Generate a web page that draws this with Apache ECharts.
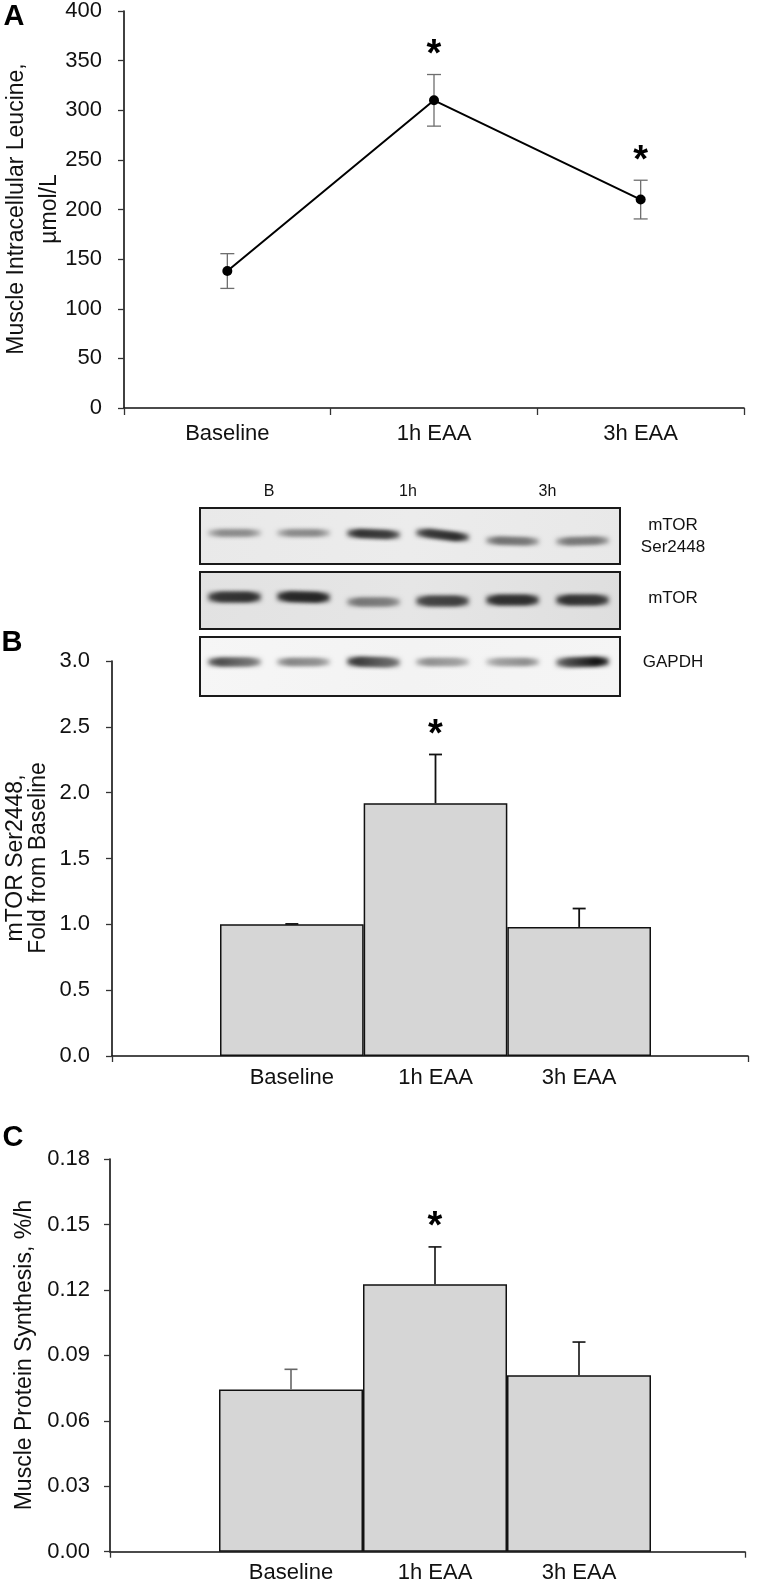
<!DOCTYPE html>
<html><head><meta charset="utf-8">
<script src="https://cdn.jsdelivr.net/npm/echarts@6/dist/echarts.min.js"></script>
<style>html,body{margin:0;padding:0;background:#fff}#c{width:757px;height:1586px}</style>
</head><body><div id="c"></div>
<script>
// ---------- data ----------
const categories = ['Baseline', '1h EAA', '3h EAA'];

const leucineMean = [138, 310, 210];
const leucineSE   = [17.5, 26, 19.5];
const leucineSig  = [false, true, true];

const mtorMean = [1.0, 1.92, 0.98];
const mtorSE   = [0.003, 0.37, 0.14];
const mtorSig  = [false, true, false];

const mpsMean = [0.0743, 0.1226, 0.0809];
const mpsSE   = [0.0093, 0.0171, 0.0152];
const mpsSig  = [false, true, false];

const blotLaneLabels = ['B', '1h', '3h'];
const blotRowLabels  = ['mTOR\nSer2448', 'mTOR', 'GAPDH'];
// band darkness (0..1) at left and right end of each of 6 lanes
const bandPhospho = [[0.5,0.5],[0.5,0.52],[0.88,0.82],[0.82,0.9],[0.6,0.55],[0.55,0.55]];
const bandTotal   = [[0.82,0.85],[0.88,0.9],[0.55,0.5],[0.75,0.78],[0.85,0.85],[0.85,0.82]];
const bandGapdh   = [[0.78,0.55],[0.5,0.42],[0.85,0.6],[0.45,0.35],[0.32,0.45],[0.65,1.0]];

// ---------- helpers ----------
const FONT = 'Liberation Sans, Arial, Helvetica, sans-serif';
const INK = '#111';

function errRender(colors, twoSided, capHalf, lw) {
  return function (params, api) {
    const i = api.value(0), lo = api.value(1), hi = api.value(2);
    const pHi = api.coord([i, hi]), pLo = api.coord([i, lo]);
    const x = pHi[0];
    const c = colors[params.dataIndex];
    const st = {stroke: c, lineWidth: lw};
    const ch = [
      {type: 'line', shape: {x1: x, y1: pLo[1], x2: x, y2: pHi[1]}, style: st},
      {type: 'line', shape: {x1: x - capHalf, y1: pHi[1], x2: x + capHalf, y2: pHi[1]}, style: st}
    ];
    if (twoSided) ch.push({type: 'line', shape: {x1: x - capHalf, y1: pLo[1], x2: x + capHalf, y2: pLo[1]}, style: st});
    return {type: 'group', children: ch};
  };
}
function starRender(params, api) {
  const p = api.coord([api.value(0), api.value(1)]);
  return {type: 'text', x: p[0], y: p[1] - 19,
    style: {text: '*', fill: '#000', font: 'bold 38px ' + FONT, align: 'center', verticalAlign: 'middle'}};
}
function errData(mean, se, twoSided) {
  return mean.map((m, i) => [i, twoSided ? m - se[i] : m, m + se[i]]);
}
function starData(mean, se, sig) {
  return mean.map((m, i) => sig[i] ? [i, m + se[i]] : null).filter(Boolean);
}

const axisLineStyle = {color: INK, width: 1.6};
const tickStyle = {color: '#333', width: 1.3};
const lbl = (margin, fmt) => ({fontSize: 22, color: INK, fontFamily: FONT, margin: margin, formatter: fmt});

function frameX(gi) {
  return {type: 'value', gridIndex: gi, min: 0, max: 1, interval: 1,
    axisLine: {show: true, onZero: false, lineStyle: axisLineStyle},
    axisTick: {show: true, length: 6, lineStyle: tickStyle},
    axisLabel: {show: false}, splitLine: {show: false}};
}
function barsX(gi, margin) {
  return {type: 'category', gridIndex: gi, data: categories, boundaryGap: true,
    axisLine: {show: false}, axisTick: {show: false}, axisLabel: lbl(margin), splitLine: {show: false}};
}
function valY(gi, min, max, interval, fmt, show, margin) {
  return {type: 'value', gridIndex: gi, min: min, max: max, interval: interval, show: show,
    axisLine: {show: true, lineStyle: axisLineStyle},
    axisTick: {show: true, length: 6, lineStyle: tickStyle},
    axisLabel: lbl(margin, fmt), splitLine: {show: false}};
}

// ---------- western blot (drawn as graphics) ----------
const blotX0 = 200, blotX1 = 620;
const blotBoxes = [[508, 564, ['#e9e9e9', '#ececec', '#e8e8e8']], [572, 629, ['#e2e2e2', '#e6e6e6', '#dedede']], [637, 696, ['#f6f6f6', '#f3f3f3', '#f5f5f5']]];
const laneCenters = [234.5, 303.5, 373.5, 442.5, 512.5, 582.5];
const bandCY = [[533,533,534,535,541,541],[597,597,602,601,600,600],[662,662,662,662,662,662]];
const bandSlope = [[0,0,1.5,4.5,1,-1],[0,1,0,0,0,0],[0,0,1,0,0,-1]];
const bandH = [[3,3,5,5,4,4],[7,7,5,7,7,7],[5,4,6,4,4,6]];
const bandSets = [bandPhospho, bandTotal, bandGapdh];
function gray(v) { const g = Math.round(228 - v * 215); return 'rgb(' + g + ',' + g + ',' + g + ')'; }

const graphics = [];
const OFF = 3000;
blotBoxes.forEach((b, r) => {
  graphics.push({type: 'rect', z: 100, shape: {x: blotX0, y: b[0], width: blotX1 - blotX0, height: b[1] - b[0]},
    style: {fill: {type: 'linear', x: 0, y: 0, x2: 1, y2: 1,
      colorStops: [{offset: 0, color: b[2][0]}, {offset: 0.5, color: b[2][1]}, {offset: 1, color: b[2][2]}]},
      stroke: '#1a1a1a', lineWidth: 2}});
  bandSets[r].forEach((d, k) => {
    const w = 52, h = bandH[r][k], nSeg = 8, segW = 16;
    const step = (w - segW) / (nSeg - 1);
    for (let s = 0; s < nSeg; s++) {
      const t = s / (nSeg - 1);
      const cx = laneCenters[k] - w / 2 + segW / 2 + s * step;
      const cy = bandCY[r][k] + (t - 0.5) * bandSlope[r][k];
      const col = gray(d[0] + (d[1] - d[0]) * t);
      graphics.push({type: 'rect', z: 101,
        shape: {x: cx - segW / 2 - OFF, y: cy - h / 2, width: segW, height: h},
        style: {fill: col, shadowBlur: 5, shadowColor: col, shadowOffsetX: OFF, shadowOffsetY: 0}});
    }
  });
});
blotLaneLabels.forEach((t, j) => {
  graphics.push({type: 'text', z: 102, x: (laneCenters[2 * j] + laneCenters[2 * j + 1]) / 2, y: 492,
    style: {text: t, font: '16px ' + FONT, fill: INK, align: 'center', verticalAlign: 'middle'}});
});
const rowLabelY = [536, 598, 662];
blotRowLabels.forEach((t, j) => {
  graphics.push({type: 'text', z: 102, x: 673, y: rowLabelY[j],
    style: {text: t, font: '17px ' + FONT, fill: INK, align: 'center', verticalAlign: 'middle', lineHeight: 22}});
});

// panel letters
[['A', 14, 17], ['B', 12, 643], ['C', 13, 1138]].forEach(p => {
  graphics.push({type: 'text', x: p[1], y: p[2],
    style: {text: p[0], font: 'bold 29px ' + FONT, fill: '#000', align: 'center', verticalAlign: 'middle'}});
});
// axis titles (rotated)
[['Muscle Intracellular Leucine,', 17, 209], ['µmol/L', 50, 209],
 ['mTOR Ser2448,', 16, 858], ['Fold from Baseline', 39, 858],
 ['Muscle Protein Synthesis, %/h', 25, 1355]].forEach(t => {
  graphics.push({type: 'text', x: t[1], y: t[2], rotation: Math.PI / 2,
    style: {text: t[0], font: '23px ' + FONT, fill: INK, align: 'center', verticalAlign: 'middle'}});
});

// ---------- chart ----------
const chart = echarts.init(document.getElementById('c'), null, {renderer: 'canvas'});
chart.setOption({
  backgroundColor: '#fff',
  animation: false,
  grid: [
    {left: 124, top: 10, width: 620, height: 398},
    {left: 112, top: 661, width: 636, height: 395},
    {left: 220, top: 661, width: 431, height: 395},
    {left: 110, top: 1159, width: 635, height: 392.7},
    {left: 219, top: 1159, width: 432, height: 392.7}
  ],
  xAxis: [
    {type: 'category', gridIndex: 0, data: categories, boundaryGap: true,
      axisLine: {show: true, lineStyle: axisLineStyle},
      axisTick: {show: true, length: 7, lineStyle: tickStyle},
      axisLabel: lbl(15), splitLine: {show: false}},
    frameX(1),
    barsX(2, 11),
    frameX(3),
    barsX(4, 10)
  ],
  yAxis: [
    valY(0, 0, 400, 50, null, true, 22),
    valY(1, 0, 3, 0.5, v => v.toFixed(1), true, 22),
    valY(2, 0, 3, 0.5, null, false, 22),
    valY(3, 0, 0.18, 0.03, v => v.toFixed(2), true, 20),
    valY(4, 0, 0.18, 0.03, null, false, 20)
  ],
  series: [
    {type: 'custom', xAxisIndex: 0, yAxisIndex: 0, z: 2, renderItem: errRender(['#6e6e6e','#6e6e6e','#6e6e6e'], true, 7, 1.3),
      data: errData(leucineMean, leucineSE, true), encode: {x: 0, y: [1, 2]}},
    {type: 'line', xAxisIndex: 0, yAxisIndex: 0, z: 3, data: leucineMean,
      lineStyle: {color: '#000', width: 2}, symbol: 'circle', symbolSize: 10,
      itemStyle: {color: '#000'}},
    {type: 'custom', xAxisIndex: 0, yAxisIndex: 0, renderItem: starRender,
      data: starData(leucineMean, leucineSE, leucineSig), encode: {x: 0, y: 1}},

    {type: 'bar', xAxisIndex: 2, yAxisIndex: 2, data: mtorMean, barCategoryGap: '0%',
      itemStyle: {color: '#d6d6d6', borderColor: INK, borderWidth: 1.5}},
    {type: 'custom', xAxisIndex: 2, yAxisIndex: 2, z: 3, renderItem: errRender([INK, INK, INK], false, 6.5, 1.8),
      data: errData(mtorMean, mtorSE, false), encode: {x: 0, y: [1, 2]}},
    {type: 'custom', xAxisIndex: 2, yAxisIndex: 2, renderItem: starRender,
      data: starData(mtorMean, mtorSE, mtorSig), encode: {x: 0, y: 1}},

    {type: 'bar', xAxisIndex: 4, yAxisIndex: 4, data: mpsMean, barCategoryGap: '0%',
      itemStyle: {color: '#d6d6d6', borderColor: INK, borderWidth: 1.5}},
    {type: 'custom', xAxisIndex: 4, yAxisIndex: 4, z: 3, renderItem: errRender(['#666', INK, INK], false, 6.5, 1.6),
      data: errData(mpsMean, mpsSE, false), encode: {x: 0, y: [1, 2]}},
    {type: 'custom', xAxisIndex: 4, yAxisIndex: 4, renderItem: starRender,
      data: starData(mpsMean, mpsSE, mpsSig), encode: {x: 0, y: 1}}
  ],
  graphic: {elements: graphics}
});
</script>
</body></html>
